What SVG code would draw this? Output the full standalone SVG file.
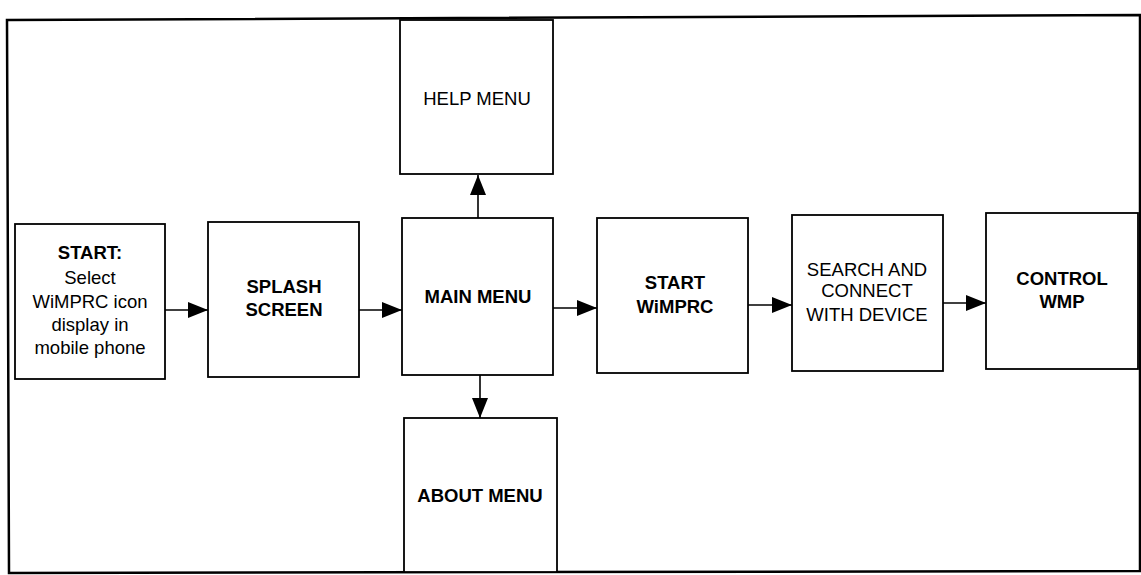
<svg xmlns="http://www.w3.org/2000/svg" width="1141" height="575" viewBox="0 0 1141 575">
<style>
.box{fill:#fff;stroke:#000;stroke-width:1.8}
.frame{fill:none;stroke:#000;stroke-width:2.5}
.conn{stroke:#000;stroke-width:1.6;fill:none}
text{font-family:"Liberation Sans",Arial,sans-serif;font-size:18.5px;fill:#000;text-anchor:middle}
.b{font-weight:bold}
</style>
<defs>
<marker id="ah" markerUnits="userSpaceOnUse" markerWidth="20" markerHeight="16" refX="20" refY="8" orient="auto">
<polygon points="0,0 20,8 0,16" fill="#000"/>
</marker>
</defs>
<rect width="1141" height="575" fill="#fff"/>
<path class="frame" d="M7,20 L1140,15 L1140,571 L9,573 Z"/>
<g id="connectors">
<line class="conn" x1="165" y1="310" x2="208" y2="310" marker-end="url(#ah)"/>
<line class="conn" x1="359" y1="310" x2="402" y2="310" marker-end="url(#ah)"/>
<line class="conn" x1="553" y1="308" x2="597" y2="308" marker-end="url(#ah)"/>
<line class="conn" x1="748" y1="305" x2="792" y2="305" marker-end="url(#ah)"/>
<line class="conn" x1="943" y1="303" x2="986" y2="303" marker-end="url(#ah)"/>
<line class="conn" x1="478" y1="218" x2="478" y2="175" marker-end="url(#ah)"/>
<line class="conn" x1="480" y1="375" x2="480" y2="418" marker-end="url(#ah)"/>
</g>
<g id="start">
<rect class="box" x="15" y="224" width="150" height="155"/>
<text x="90" y="259" class="b">START:</text>
<text x="90" y="284">Select</text>
<text x="90" y="308">WiMPRC icon</text>
<text x="90" y="331">display in</text>
<text x="90" y="354">mobile phone</text>
</g>
<g id="splash">
<rect class="box" x="208" y="222" width="151" height="155"/>
<text x="284" y="293" class="b">SPLASH</text>
<text x="284" y="316" class="b">SCREEN</text>
</g>
<g id="main">
<rect class="box" x="402" y="218" width="151" height="157"/>
<text x="478" y="303" class="b">MAIN MENU</text>
</g>
<g id="help">
<rect class="box" x="400" y="20" width="153" height="154"/>
<text x="477" y="105">HELP MENU</text>
</g>
<g id="about">
<rect class="box" x="404" y="418" width="153" height="154"/>
<text x="480" y="502" class="b">ABOUT MENU</text>
</g>
<g id="startwimprc">
<rect class="box" x="597" y="218" width="151" height="155"/>
<text x="675" y="289" class="b">START</text>
<text x="675" y="313" class="b">WiMPRC</text>
</g>
<g id="search">
<rect class="box" x="792" y="215" width="151" height="156"/>
<text x="867" y="276">SEARCH AND</text>
<text x="867" y="297">CONNECT</text>
<text x="867" y="321">WITH DEVICE</text>
</g>
<g id="control">
<rect class="box" x="986" y="213" width="152" height="156"/>
<text x="1062" y="285" class="b">CONTROL</text>
<text x="1062" y="308" class="b">WMP</text>
</g>
</svg>
